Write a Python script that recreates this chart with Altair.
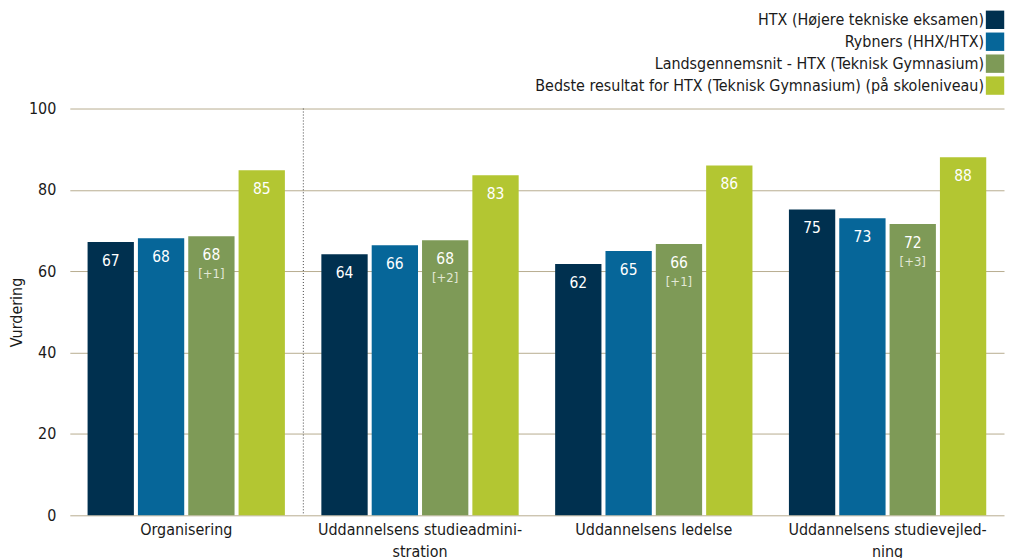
import altair as alt
import pandas as pd

FONT = "DejaVu Sans Condensed"

categories = ["Organisering", "Uddannelsens studieadministration",
              "Uddannelsens ledelse", "Uddannelsens studievejledning"]
category_lines = [["Organisering"],
                  ["Uddannelsens studieadmini-", "stration"],
                  ["Uddannelsens ledelse"],
                  ["Uddannelsens studievejled-", "ning"]]
series = ["HTX (Højere tekniske eksamen)",
          "Rybners (HHX/HTX)",
          "Landsgennemsnit - HTX (Teknisk Gymnasium)",
          "Bedste resultat for HTX (Teknisk Gymnasium) (på skoleniveau)"]
colors = ["#00304f", "#066699", "#7e9a57", "#b3c632"]

htx_values = [67.2, 64.2, 61.8, 75.2]
rybners_values = [68.1, 66.4, 65.0, 73.0]
lands_values = [68.6, 67.6, 66.7, 71.6]
bedste_values = [84.8, 83.6, 86.0, 88.0]

htx_labels = ["67", "64", "62", "75"]
rybners_labels = ["68", "66", "65", "73"]
lands_labels = ["68", "68", "66", "72"]
bedste_labels = ["85", "83", "86", "88"]
lands_deltas = ["[+1]", "[+2]", "[+1]", "[+3]"]

rows = []
for s, vals, labs in zip(series,
                         [htx_values, rybners_values, lands_values, bedste_values],
                         [htx_labels, rybners_labels, lands_labels, bedste_labels]):
    for i, c in enumerate(categories):
        delta = lands_deltas[i] if s == series[2] else ""
        rows.append({"category": c, "series": s, "value": vals[i],
                     "label": labs[i], "delta": delta})
df = pd.DataFrame(rows)

# label expression for multi-line category labels
expr = "datum.label"
for c, lines in reversed(list(zip(categories, category_lines))):
    arr = "[" + ",".join("'" + l + "'" for l in lines) + "]"
    expr = f"datum.label == '{c}' ? {arr} : ({expr})"

W = 937
H = 408

color_scale = alt.Scale(domain=series, range=colors)

x_enc = alt.X("category:N", sort=categories,
              scale=alt.Scale(paddingInner=0.156, paddingOuter=0.076),
              axis=alt.Axis(title=None, labelExpr=expr, domain=False, ticks=False,
                            labelAngle=0, labelPadding=6, labelFontSize=16,
                            labelColor="#1a1a1a", labelLineHeight=22,
                            labelBaseline="top", labelFont=FONT, labelLimit=400))
xo_enc = alt.XOffset("series:N", sort=series,
                     scale=alt.Scale(paddingInner=0.08, paddingOuter=0))
y_enc = alt.Y("value:Q", scale=alt.Scale(domain=[0, 100]),
              axis=alt.Axis(title="Vurdering", values=[0, 20, 40, 60, 80, 100],
                            domain=False, ticks=False, gridColor="#b8ad90",
                            labelFontSize=16, labelPadding=14, labelColor="#1a1a1a",
                            labelFont=FONT, titleFont=FONT, titleFontSize=16,
                            titleFontWeight="normal", titleColor="#1a1a1a",
                            titlePadding=4))

base = alt.Chart(df).encode(x=x_enc, xOffset=xo_enc)

bars = base.mark_bar().encode(
    y=y_enc,
    color=alt.Color("series:N", scale=color_scale, legend=None),
)
value_text = base.mark_text(dy=19, color="white", fontSize=15.5, baseline="middle",
                            font=FONT).encode(y="value:Q", text="label:N")
delta_text = base.transform_filter("datum.delta != ''").mark_text(
    dy=38, color="#e2e8d6", fontSize=13, baseline="middle", font=FONT
).encode(y="value:Q", text="delta:N")

sep = alt.Chart(pd.DataFrame({"category": [categories[0]]})).mark_rule(
    strokeDash=[1, 2], color="#444", xOffset=18.5, strokeWidth=1
).encode(
    x=alt.X("category:N", sort=categories, bandPosition=1),
    y=alt.datum(100), y2=alt.datum(0),
)

main = alt.layer(bars, sep, value_text, delta_text).properties(width=W, height=H)

leg_df = pd.DataFrame({"series": series})
leg_base = alt.Chart(leg_df).encode(
    y=alt.Y("series:N", sort=series, axis=None)
)
leg_sq = leg_base.mark_square(size=340, opacity=1).encode(
    x=alt.value(W - 9),
    color=alt.Color("series:N", scale=color_scale, legend=None),
)
leg_txt = leg_base.mark_text(align="right", baseline="middle", fontSize=16,
                             color="#1a1a1a", font=FONT).encode(
    x=alt.value(W - 20), text="series:N"
)
legend = alt.layer(leg_sq, leg_txt).properties(width=W, height=88)

chart = alt.vconcat(legend, main, spacing=4).properties(
    padding=0, background="white"
).configure_view(strokeWidth=0, stroke="transparent")

chart.save("out.html", embed_options={"renderer": "svg", "actions": False})
